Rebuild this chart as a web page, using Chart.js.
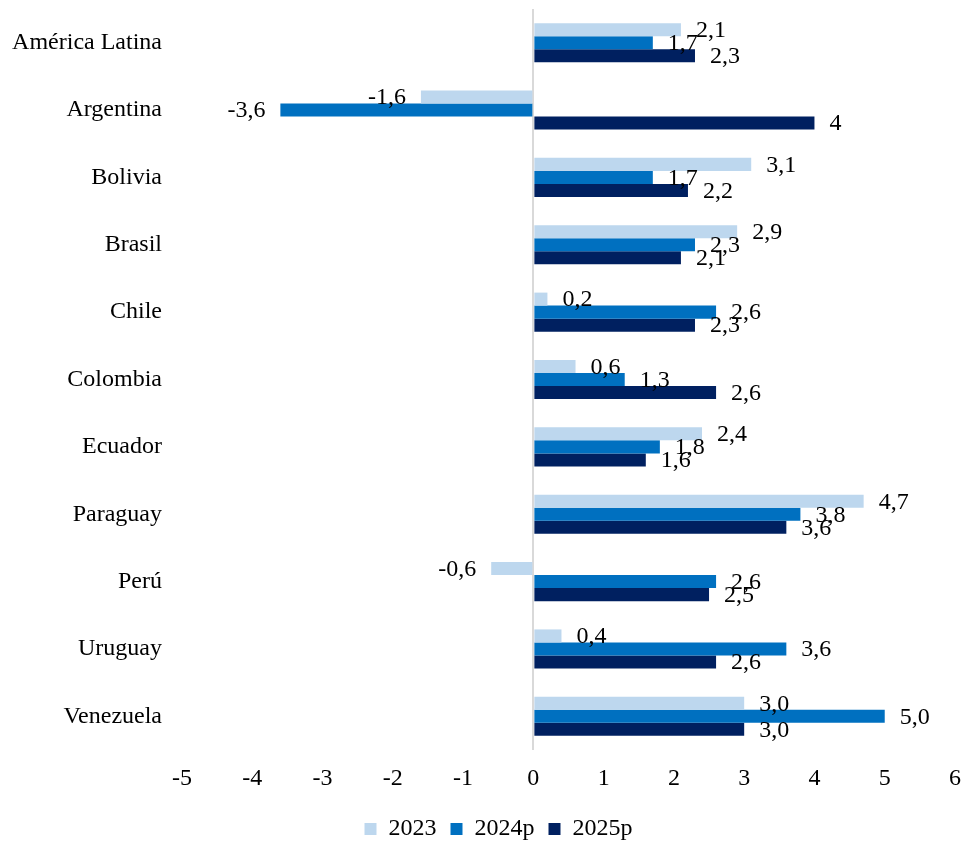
<!DOCTYPE html>
<html>
<head>
<meta charset="utf-8">
<script src="https://cdn.jsdelivr.net/npm/chart.js@4/dist/chart.umd.min.js"></script>
<style>
  html, body { margin: 0; padding: 0; background: #fff; }
  #wrap { width: 962px; height: 842px; }
</style>
</head>
<body>
<div id="wrap"><canvas id="growthChart"></canvas></div>
<script>
// Datos: crecimiento del PIB (%)
const countries = ['América Latina', 'Argentina', 'Bolivia', 'Brasil', 'Chile', 'Colombia',
  'Ecuador', 'Paraguay', 'Perú', 'Uruguay', 'Venezuela'];
const seriesNames = ['2023', '2024p', '2025p'];
const labels2023 = ['2,1', '-1,6', '3,1', '2,9', '0,2', '0,6', '2,4', '4,7', '-0,6', '0,4', '3,0'];
const labels2024 = ['1,7', '-3,6', '1,7', '2,3', '2,6', '1,3', '1,8', '3,8', '2,6', '3,6', '5,0'];
const labels2025 = ['2,3', '4', '2,2', '2,1', '2,3', '2,6', '1,6', '3,6', '2,5', '2,6', '3,0'];
const xTicks = [-5, -4, -3, -2, -1, 0, 1, 2, 3, 4, 5, 6];
const colors = ['#BDD7EE', '#0070C0', '#002060'];

const toNum = s => parseFloat(s.replace(',', '.'));
const allLabels = [labels2023, labels2024, labels2025];

const FONT = "'Liberation Serif', 'Times New Roman', serif";
Chart.defaults.font.family = FONT;
Chart.defaults.font.size = 24;
Chart.defaults.color = '#000';

// Etiquetas de valor al final de cada barra
const valueLabels = {
  id: 'valueLabels',
  afterDatasetsDraw(chart) {
    const ctx = chart.ctx;
    ctx.save();
    ctx.font = '24px ' + FONT;
    ctx.fillStyle = '#000';
    ctx.textBaseline = 'middle';
    chart.data.datasets.forEach((ds, i) => {
      const meta = chart.getDatasetMeta(i);
      meta.data.forEach((bar, j) => {
        const v = ds.data[j];
        const txt = allLabels[i][j];
        if (v >= 0) {
          ctx.textAlign = 'left';
          ctx.fillText(txt, bar.x + 15, bar.y + 1);
        } else {
          ctx.textAlign = 'right';
          ctx.fillText(txt, bar.x - 15, bar.y + 1);
        }
      });
    });
    ctx.restore();
  }
};

// Mover la leyenda un poco a la derecha, como en el original
const legendShift = {
  id: 'legendShift',
  afterLayout(chart) {
    if (chart.legend) {
      chart.legend.left += 21;
      chart.legend.right += 21;
    }
  }
};

new Chart(document.getElementById('growthChart'), {
  type: 'bar',
  data: {
    labels: countries,
    datasets: seriesNames.map((name, i) => ({
      label: name,
      data: allLabels[i].map(toNum),
      backgroundColor: colors[i],
      categoryPercentage: 0.58,
      barPercentage: 1.0
    }))
  },
  options: {
    indexAxis: 'y',
    responsive: true,
    maintainAspectRatio: false,
    animation: false,
    layout: { padding: { top: 9, right: 7, left: 0, bottom: -9 } },
    plugins: {
      legend: {
        position: 'bottom',
        labels: { boxWidth: 12, boxHeight: 12, padding: 14, font: { size: 24 } }
      },
      tooltip: { enabled: false }
    },
    scales: {
      x: {
        min: -5,
        max: 6,
        afterBuildTicks: scale => { scale.ticks = xTicks.map(v => ({ value: v })); },
        afterFit: scale => {
          scale.height = 53;
          scale.paddingLeft = 0;
          scale.paddingRight = 0;
        },
        grid: {
          drawTicks: false,
          color: c => c.tick && c.tick.value === 0 ? '#D9D9D9' : 'rgba(0,0,0,0)',
          lineWidth: 2
        },
        border: { display: false },
        ticks: { padding: 14, font: { size: 24 } }
      },
      y: {
        grid: { display: false, drawTicks: false },
        border: { display: false },
        afterFit: scale => {
          scale.width = 182;
          scale.paddingTop = 0;
          scale.paddingBottom = 0;
        },
        ticks: { padding: 20, font: { size: 24 } }
      }
    }
  },
  plugins: [valueLabels, legendShift]
});
</script>
</body>
</html>
